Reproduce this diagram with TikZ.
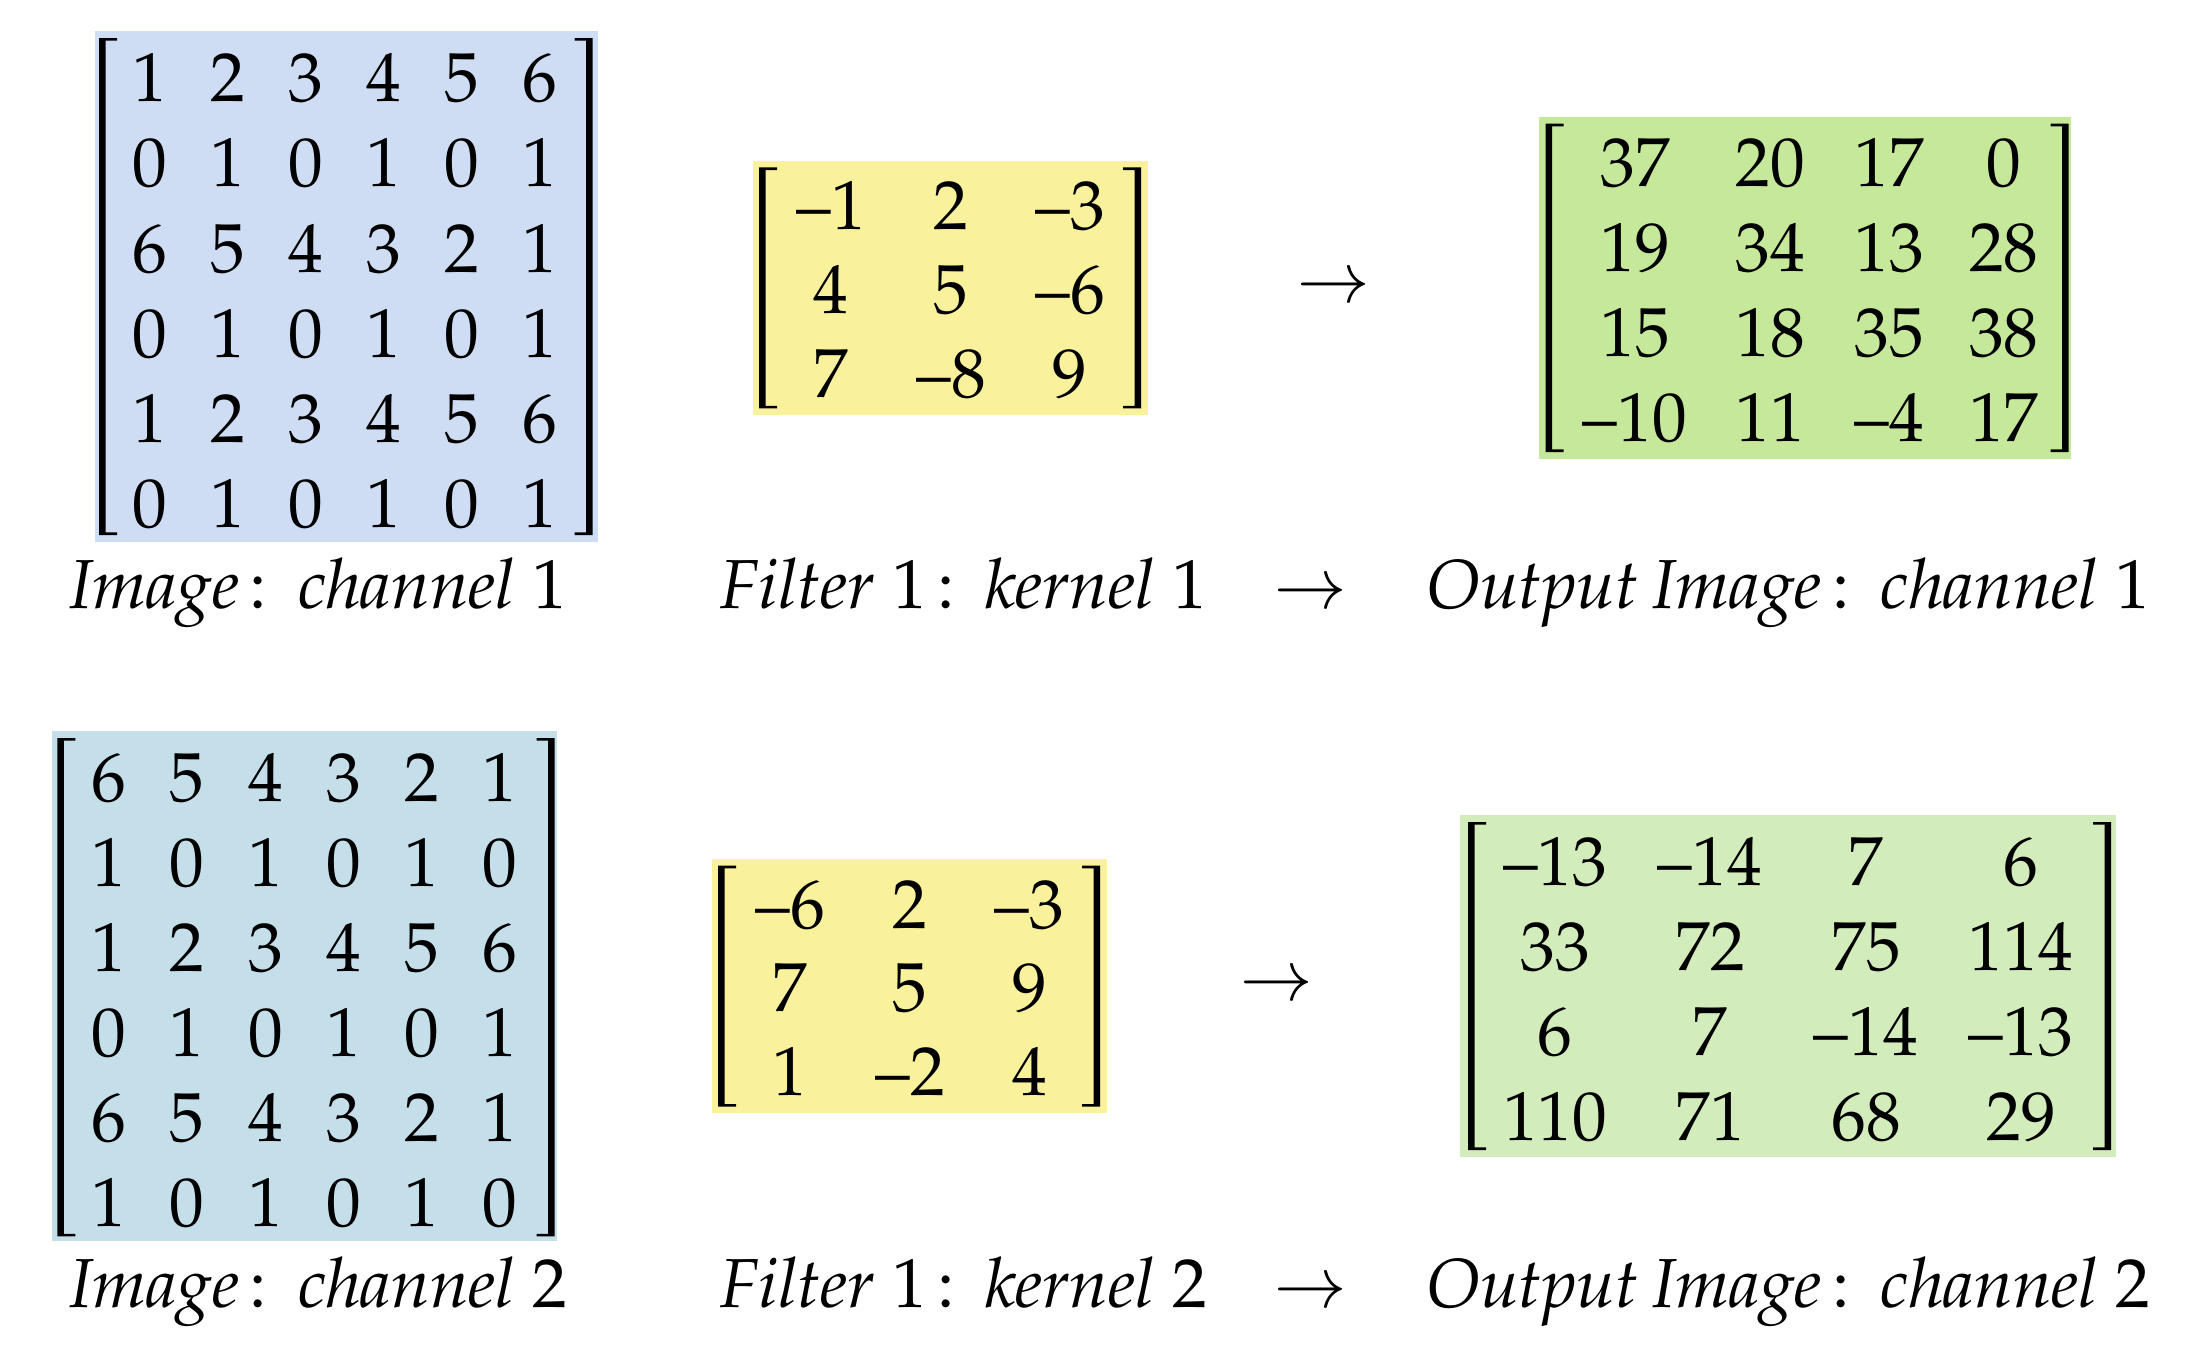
\documentclass[tikz,border=0pt]{standalone}
\usepackage[T1]{fontenc}
\usepackage{mathpazo}

\definecolor{imgblueA}{RGB}{206,221,243}
\definecolor{imgblueB}{RGB}{197,223,234}
\definecolor{kernyellow}{RGB}{249,241,155}
\definecolor{outgreenA}{RGB}{198,232,155}
\definecolor{outgreenB}{RGB}{211,236,187}

\newcommand\cellfont{\fontsize{34.7}{41.6}\selectfont}
% short minus sign used in the matrix entries
\newcommand\mn{\textendash}

% square brackets drawn as filled outlines: #1 outer x, #2 top y, #3 bottom y
\newcommand\bracketL[3]{%
  \fill (#1,#2) -- ({#1+18},#2) -- ({#1+18},{#2+2.6}) -- ({#1+6.5},{#2+2.6})
    -- ({#1+6.5},{#3-2.6}) -- ({#1+18},{#3-2.6}) -- ({#1+18},#3) -- (#1,#3) -- cycle;}
\newcommand\bracketR[3]{%
  \fill (#1,#2) -- ({#1-18},#2) -- ({#1-18},{#2+2.6}) -- ({#1-6.5},{#2+2.6})
    -- ({#1-6.5},{#3-2.6}) -- ({#1-18},{#3-2.6}) -- ({#1-18},#3) -- (#1,#3) -- cycle;}

% entries of a matrix: #1 name, #2 column centres, #3 first baseline, #4 row step, #5 rows
\newcommand\placeentries[5]{%
  \foreach \rowvals [count=\r] in {#5} {
    \foreach \v [count=\c] in \rowvals {
      \pgfmathsetmacro\xc{{#2}[\c-1]}
      \node[entry] (#1-\r-\c) at (\xc,{#3+(\r-1)*#4}) {\v};
    }
  }}

\begin{document}
\begin{tikzpicture}[x=0.5pt,y=-0.5pt,
  entry/.style={anchor=base,inner sep=0pt,font=\cellfont},
  caption/.style={anchor=base west,inner sep=0pt,font=\cellfont},
  opsym/.style={inner sep=0pt,font=\cellfont}]
\useasboundingbox (0,0) rectangle (2212,1356);
\fill[white] (0,0) rectangle (2212,1356);

% ---------- channel 1 ----------
\fill[imgblueA] (94.5,31) rectangle (598,542);
\bracketL{99}{38}{535}
\bracketR{592.5}{38}{535}
\placeentries{A}{149.6,227.7,305.8,383.9,462,540.1}{101.8}{85.15}
  {{1,2,3,4,5,6},{0,1,0,1,0,1},{6,5,4,3,2,1},{0,1,0,1,0,1},{1,2,3,4,5,6},{0,1,0,1,0,1}}

\fill[kernyellow] (753.3,160.8) rectangle (1148.3,414.7);
\bracketL{759}{167.4}{408.4}
\bracketR{1141}{167.4}{408.4}
\placeentries{B}{831,951,1070.3}{229.8}{83.8}
  {{\mn1,2,\mn3},{4,5,\mn6},{7,\mn8,9}}

\node[opsym] (arrA) at (1333.5,289) {$\rightarrow$};

\fill[outgreenA] (1539,117) rectangle (2071,458.5);
\bracketL{1545.5}{123.7}{452}
\bracketR{2068.5}{123.7}{452}
\placeentries{C}{1635,1770.5,1889,2003.7}{186.3}{85.2}
  {{37,20,17,0},{19,34,13,28},{15,18,35,38},{\mn10,11,\mn4,17}}

\node[caption] (capA) at (69,608)
  {\textit{Image}\hspace{0.15em}:\hspace{0.45em}\textit{channel}\hspace{0.25em}1};
\node[caption] (capB) at (720,608)
  {\textit{Filter}\hspace{0.25em}1\hspace{0.16em}:\hspace{0.43em}\textit{kernel}\hspace{0.25em}1};
\node[caption] (capArrA) at (1273,608) {$\rightarrow$};
\node[caption] (capC) at (1426,608)
  {\textit{Output}\hspace{0.2em}\textit{Image}\hspace{0.15em}:\hspace{0.45em}\textit{channel}\hspace{0.25em}1};

% ---------- channel 2 ----------
\fill[imgblueB] (52.2,730.7) rectangle (557.2,1241.4);
\bracketL{57.4}{738.1}{1236.4}
\bracketR{554.6}{738.1}{1236.4}
\placeentries{D}{109,187.3,265.5,343.8,422,500.3}{801.6}{84.9}
  {{6,5,4,3,2,1},{1,0,1,0,1,0},{1,2,3,4,5,6},{0,1,0,1,0,1},{6,5,4,3,2,1},{1,0,1,0,1,0}}

\fill[kernyellow] (712.4,859.1) rectangle (1107.4,1113);
\bracketL{718.1}{865.7}{1106.7}
\bracketR{1100.1}{865.7}{1106.7}
\placeentries{E}{790,910,1029.4}{928.1}{83.8}
  {{\mn6,2,\mn3},{7,5,9},{1,\mn2,4}}

\node[opsym] (arrB) at (1276.5,987.5) {$\rightarrow$};

\fill[outgreenB] (1460,815.4) rectangle (2116,1156.8);
\bracketL{1468}{822}{1150}
\bracketR{2111}{822}{1150}
\placeentries{F}{1555.3,1710,1866,2021}{885.4}{84.9}
  {{\mn13,\mn14,7,6},{33,72,75,114},{6,7,\mn14,\mn13},{110,71,68,29}}

\node[caption] (capD) at (69,1307)
  {\textit{Image}\hspace{0.15em}:\hspace{0.45em}\textit{channel}\hspace{0.25em}2};
\node[caption] (capE) at (720,1307)
  {\textit{Filter}\hspace{0.25em}1\hspace{0.16em}:\hspace{0.43em}\textit{kernel}\hspace{0.25em}2};
\node[caption] (capArrB) at (1273,1307) {$\rightarrow$};
\node[caption] (capF) at (1426,1307)
  {\textit{Output}\hspace{0.2em}\textit{Image}\hspace{0.15em}:\hspace{0.45em}\textit{channel}\hspace{0.25em}2};
\end{tikzpicture}
\end{document}
